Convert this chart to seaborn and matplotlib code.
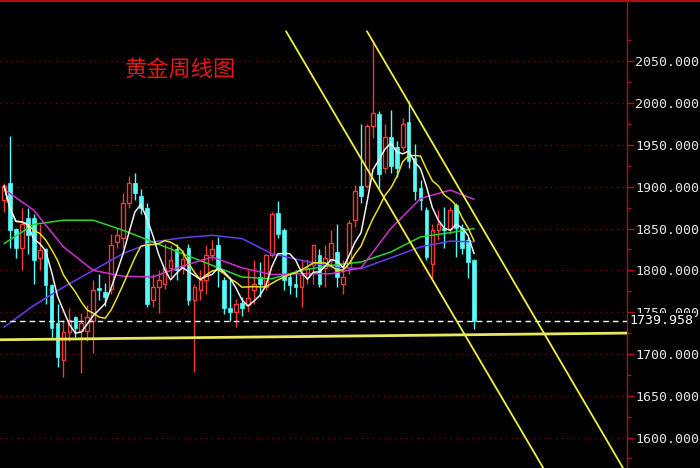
# libraries
import numpy as np
import pandas as pd
import seaborn as sns
import matplotlib.pyplot as plt

# weekly gold candles (oldest -> newest)
opens = [1884, 1905, 1850, 1827, 1863, 1863, 1815, 1826, 1782, 1737,
         1693, 1726, 1744, 1728, 1728, 1740, 1779, 1774, 1778, 1834,
         1839, 1881, 1904, 1889, 1874, 1764, 1780, 1784, 1803, 1826,
         1803, 1827, 1764, 1776, 1788, 1818, 1830, 1788, 1755, 1750,
         1761, 1758, 1776, 1792, 1780, 1818, 1869, 1848, 1792, 1784,
         1780, 1792, 1806, 1818, 1803, 1812, 1822, 1784, 1803, 1860,
         1901, 1901, 1973, 1987, 1923, 1959, 1947, 1947, 1977, 1934,
         1899, 1872, 1808, 1848, 1851, 1850, 1878, 1851, 1836, 1812]
highs = [1905, 1961, 1851, 1875, 1875, 1868, 1856, 1827, 1784, 1760,
         1741, 1755, 1746, 1749, 1758, 1788, 1796, 1785, 1844, 1851,
         1892, 1913, 1917, 1897, 1880, 1796, 1800, 1832, 1830, 1832,
         1824, 1832, 1784, 1800, 1830, 1836, 1840, 1792, 1792, 1766,
         1768, 1800, 1812, 1810, 1820, 1870, 1883, 1851, 1796, 1800,
         1814, 1814, 1832, 1826, 1830, 1848, 1856, 1812, 1860, 1902,
         1975, 1975, 2076, 1991, 1975, 1992, 1955, 1982, 2003, 1951,
         1908, 1876, 1856, 1872, 1876, 1876, 1880, 1856, 1840, 1814]
lows = [1870, 1827, 1815, 1800, 1820, 1784, 1800, 1760, 1720, 1684,
        1672, 1716, 1720, 1677, 1716, 1701, 1764, 1757, 1772, 1827,
        1827, 1875, 1884, 1867, 1756, 1756, 1749, 1778, 1792, 1788,
        1796, 1758, 1678, 1764, 1772, 1812, 1780, 1748, 1740, 1732,
        1745, 1750, 1760, 1768, 1776, 1816, 1839, 1776, 1772, 1768,
        1756, 1784, 1784, 1780, 1780, 1803, 1780, 1772, 1796, 1852,
        1880, 1898, 1958, 1899, 1916, 1916, 1912, 1943, 1923, 1884,
        1872, 1812, 1791, 1836, 1827, 1844, 1816, 1820, 1791, 1730]
closes = [1901, 1848, 1827, 1856, 1842, 1812, 1824, 1782, 1731, 1696,
          1726, 1741, 1731, 1737, 1744, 1776, 1777, 1768, 1830, 1842,
          1881, 1904, 1892, 1875, 1760, 1780, 1788, 1803, 1812, 1800,
          1814, 1764, 1780, 1788, 1818, 1826, 1803, 1755, 1750, 1760,
          1755, 1767, 1784, 1784, 1818, 1868, 1844, 1788, 1782, 1780,
          1794, 1803, 1830, 1784, 1815, 1833, 1792, 1792, 1857, 1895,
          1889, 1973, 1988, 1915, 1959, 1925, 1923, 1975, 1931, 1895,
          1884, 1816, 1848, 1856, 1848, 1872, 1851, 1827, 1810, 1739.958]

# longer moving averages, read every 5 weeks
ma_weeks = [0, 5, 10, 15, 20, 25, 30, 35, 40, 45, 50, 55, 60, 65, 70, 75, 79]
ma_magenta = [1897, 1872, 1828, 1800, 1793, 1792, 1805, 1816, 1803, 1795,
              1796, 1796, 1803, 1850, 1886, 1896, 1885]
ma_green = [1832, 1855, 1860, 1860, 1848, 1834, 1820, 1806, 1792, 1790,
            1800, 1806, 1810, 1822, 1840, 1845, 1850]
ma_purple = [1732, 1758, 1780, 1800, 1820, 1834, 1839, 1842, 1838, 1820,
             1812, 1804, 1802, 1815, 1828, 1835, 1834]

last_price = 1739.958
yticks = [1600, 1650, 1700, 1750, 1800, 1850, 1900, 1950, 2000, 2050]

# hand drawn lines on the chart: (week positions, prices)
chan_a = ([47.4, 90.6], [2086, 1564])
chan_b = ([61.0, 104.0], [2086, 1564])
support = ([-0.7, 104.7], [1717, 1725])

df = pd.DataFrame({"week": np.arange(len(closes)), "open": opens, "high": highs,
                   "low": lows, "close": closes})
df["ma5"] = df["close"].rolling(5, min_periods=1).mean()
df["ma10"] = df["close"].rolling(10, min_periods=1).mean()
ma = pd.DataFrame({"week": ma_weeks, "magenta": ma_magenta, "green": ma_green,
                   "purple": ma_purple})

sns.set_theme(style="dark", rc={"axes.facecolor": "black", "figure.facecolor": "black",
                                "savefig.facecolor": "black"})
plt.rcParams["font.family"] = ["Noto Sans CJK SC", "DejaVu Sans"]

fig = plt.figure(figsize=(7, 4.68), dpi=100)
ax = fig.add_axes([0, 0, 627 / 700, 467 / 468])

red = "#F03C32"
cyan = "#54FCFC"
up = df["close"] >= df["open"]

# wicks
ax.vlines(df["week"][up], df["low"][up], df["high"][up], color=red, lw=1, zorder=2)
ax.vlines(df["week"][~up], df["low"][~up], df["high"][~up], color=cyan, lw=1, zorder=2)
# bodies: hollow red for up weeks, solid cyan for down weeks
body = (df["close"] - df["open"]).abs().clip(lower=1.5)
bottom = df[["open", "close"]].min(axis=1)
ax.bar(df["week"][up], body[up], bottom=bottom[up], width=0.62,
       facecolor="black", edgecolor=red, lw=1, zorder=3)
ax.bar(df["week"][~up], body[~up], bottom=bottom[~up], width=0.62,
       facecolor=cyan, edgecolor=cyan, lw=0.5, zorder=3)

# moving averages
sns.lineplot(data=ma, x="week", y="purple", color="#6A3CF0", lw=1.1, ax=ax, zorder=4)
sns.lineplot(data=ma, x="week", y="green", color="#28D828", lw=1.1, ax=ax, zorder=4)
sns.lineplot(data=ma, x="week", y="magenta", color="#D030D0", lw=1.1, ax=ax, zorder=4)
sns.lineplot(data=df, x="week", y="ma10", color="#E8E020", lw=1.1, ax=ax, zorder=4)
sns.lineplot(data=df, x="week", y="ma5", color="#F0F0F0", lw=1.1, ax=ax, zorder=4)

# trend channel and support
ax.plot(*chan_a, color="#F0F040", lw=1.3, zorder=5)
ax.plot(*chan_b, color="#F0F040", lw=1.3, zorder=5)
ax.plot(*support, color="#E8E860", lw=2, zorder=5)

# latest price
ax.axhline(last_price, color="white", lw=1, ls=(0, (4, 3)), zorder=5)
ax.annotate(f"{last_price:.3f}", xy=(1.004, last_price), xycoords=("axes fraction", "data"),
            va="center", ha="left", color="white", fontsize=9.5, family="DejaVu Sans Mono",
            bbox=dict(boxstyle="square,pad=0.1", fc="black", ec="none"),
            annotation_clip=False, zorder=10)

ax.set_xlim(-0.67, 104.7)
ax.set_ylim(1563.6, 2122.2)
ax.set_xlabel("")
ax.set_ylabel("")
ax.set_xticks([])

ax.yaxis.tick_right()
ax.set_yticks(yticks)
ax.set_yticks(np.arange(1575, 2125, 50), minor=True)
ax.set_yticklabels([f"{v:.3f}" for v in yticks], family="DejaVu Sans Mono",
                   fontsize=9.5, color="#E6E6E6")
ax.tick_params(axis="y", which="major", length=5, width=1, color="#B01010", pad=1,
               right=True, left=False)
ax.tick_params(axis="y", which="minor", length=3, width=1, color="#B01010",
               right=True, left=False)
ax.grid(axis="y", which="major", color="#7A0000", ls=(0, (1, 3)), lw=1)
ax.grid(axis="x", visible=False)

for side in ["left", "bottom", "top"]:
    ax.spines[side].set_visible(False)
ax.spines["right"].set_color("#B01010")
ax.spines["right"].set_linewidth(1)

# frame line along the whole top edge
fig.add_artist(plt.Line2D([0, 1], [1 - 1 / 468] * 2, transform=fig.transFigure,
                          color="#B01010", lw=1.5))

fig.text(125 / 700, 1 - 70 / 468, "黄金周线图", color="#E01818", fontsize=16,
         va="center", ha="left")

fig.savefig("out.png", dpi=100, facecolor="black")
